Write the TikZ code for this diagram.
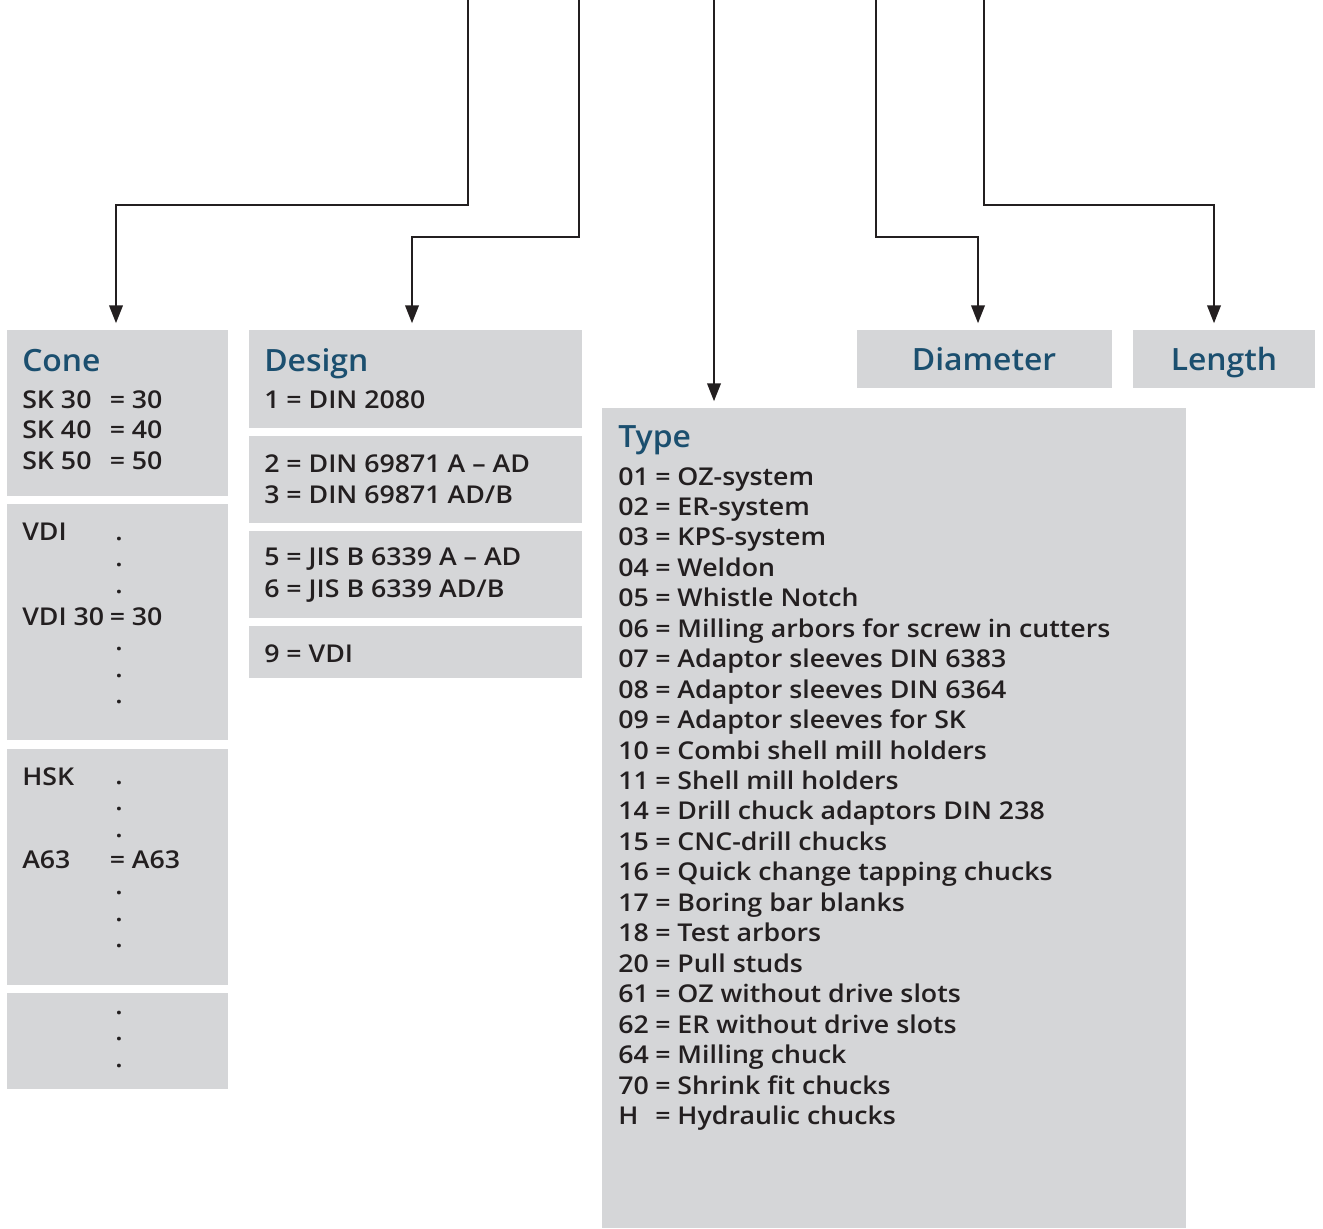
\documentclass[tikz,border=0pt]{standalone}
\usepackage{fontspec}
\setmainfont{Open Sans}[UprightFont=* Semibold, FakeStretch=1.09]
\newfontfamily\headfont{Open Sans}[UprightFont=* Semibold, FakeStretch=1.04]
\usetikzlibrary{positioning,arrows.meta}
\definecolor{panelgray}{HTML}{D5D6D8}
\definecolor{headblue}{HTML}{1B4F6F}
\definecolor{inkdark}{HTML}{231F20}

\begin{document}
\begin{tikzpicture}[x=0.75pt, y=-0.75pt,
        panel/.style={rectangle, fill=panelgray, inner sep=0pt, anchor=north west},
        head/.style={anchor=base west, inner sep=0pt, text=headblue, font=\headfont\fontsize{23}{27}\selectfont},
        entry/.style={anchor=base west, inner sep=0pt, text=inkdark, font=\fontsize{18.4}{23}\selectfont},
        dotmark/.style={anchor=base, inner sep=0pt, text=inkdark, font=\fontsize{18.4}{23}\selectfont},
        link/.style={-{Triangle[width=10pt, length=13.5pt]}, line width=2pt, draw=inkdark, shorten >=5pt}
    ]
    \useasboundingbox (0,0) rectangle (1323,1228);

    % panels
    \node[panel, minimum width=165.75pt, minimum height=124.5pt] (cone) at (7,330) {};
    \node[panel, minimum width=165.75pt, minimum height=177pt] (vdi) at (7,504) {};
    \node[panel, minimum width=165.75pt, minimum height=177pt] (hsk) at (7,749) {};
    \node[panel, minimum width=165.75pt, minimum height=72pt] (more) at (7,993) {};
    \node[panel, minimum width=249.75pt, minimum height=73.5pt] (design) at (249,330) {};
    \node[panel, minimum width=249.75pt, minimum height=65.25pt] (dinA) at (249,436) {};
    \node[panel, minimum width=249.75pt, minimum height=65.25pt] (jisA) at (249,531) {};
    \node[panel, minimum width=249.75pt, minimum height=39pt] (vdiB) at (249,626) {};
    \node[panel, minimum width=438pt, minimum height=615pt] (type) at (602,408) {};
    \node[panel, minimum width=191.25pt, minimum height=43.5pt] (diameter) at (857,330) {};
    \node[panel, minimum width=136.5pt, minimum height=43.5pt] (length) at (1133,330) {};

    % cone
    \node[head] (coneHead) at (22,371) {Cone};
    \foreach \n [count=\i from 0] in {30,40,50} {
        \node[entry] (sk\n) at (22,408+30.5*\i) {SK \n};
        \node[entry] (skv\n) at (109.5,408+30.5*\i) {= \n};
    }
    \node[entry] (vdiHead) at (22,540) {VDI};
    \node[entry] (vdiLeft) at (22,625) {VDI 30};
    \node[entry] (vdiRight) at (109.5,625) {= 30};
    \node[entry] (hskHead) at (22,785) {HSK};
    \node[entry] (hskLeft) at (22,868) {A63};
    \node[entry] (hskRight) at (109.5,868) {= A63};
    \foreach \d [count=\k] in {0,26.7,53.5,110,137,163.5} {
        \node[dotmark] (vdiDot\k) at (119,540+\d) {.};
        \node[dotmark] (hskDot\k) at (119,784+\d) {.};
    }
    \foreach \d [count=\k] in {1014,1040,1067} {
        \node[dotmark] (moreDot\k) at (119,\d) {.};
    }

    % design
    \node[head] (designHead) at (264,371) {Design};
    \node[entry] (des1) at (264,408) {1 = DIN 2080};
    \node[entry] (des2) at (264,472) {2 = DIN 69871 A – AD};
    \node[entry] (des3) at (264,503) {3 = DIN 69871 AD/B};
    \node[entry] (des5) at (264,565) {5 = JIS B 6339 A – AD};
    \node[entry] (des6) at (264,597) {6 = JIS B 6339 AD/B};
    \node[entry] (des9) at (264,662) {9 = VDI};

    % type
    \node[head] (typeHead) at (618,447) {Type};
    \foreach \c/\t [count=\i from 0] in {01/OZ-system, 02/ER-system, 03/KPS-system,
            04/Weldon, 05/Whistle Notch, 06/Milling arbors for screw in cutters,
            07/Adaptor sleeves DIN 6383, 08/Adaptor sleeves DIN 6364,
            09/Adaptor sleeves for SK, 10/Combi shell mill holders,
            11/Shell mill holders, 14/Drill chuck adaptors DIN 238,
            15/CNC-drill chucks, 16/Quick change tapping chucks,
            17/Boring bar blanks, 18/Test arbors, 20/Pull studs,
            61/OZ without drive slots, 62/ER without drive slots,
            64/Milling chuck, 70/Shrink fit chucks, H/Hydraulic chucks} {
        \node[entry] (type\i) at (618,485+30.45*\i) {\makebox[27.75pt][l]{\c}= \t};
    }

    % diameter, length
    \node[head, anchor=base] (diamHead) at (984,370) {Diameter};
    \node[head, anchor=base] (lenHead) at (1224,370) {Length};

    % connectors
    \coordinate (srcCone) at (468,0);
    \coordinate (bendCone) at (116,205);
    \coordinate (srcDesign) at (579,0);
    \coordinate (bendDesign) at (412,237);
    \coordinate (srcType) at (714,0);
    \coordinate (srcDiam) at (876,0);
    \coordinate (bendDiam) at (978,237);
    \coordinate (srcLen) at (984,0);
    \coordinate (bendLen) at (1214,205);
    \draw[link] (srcCone) |- (bendCone) -- (cone.north -| bendCone);
    \draw[link] (srcDesign) |- (bendDesign) -- (design.north -| bendDesign);
    \draw[link] (srcType) -- (type.north -| srcType);
    \draw[link] (srcDiam) |- (bendDiam) -- (diameter.north -| bendDiam);
    \draw[link] (srcLen) |- (bendLen) -- (length.north -| bendLen);
\end{tikzpicture}
\end{document}
